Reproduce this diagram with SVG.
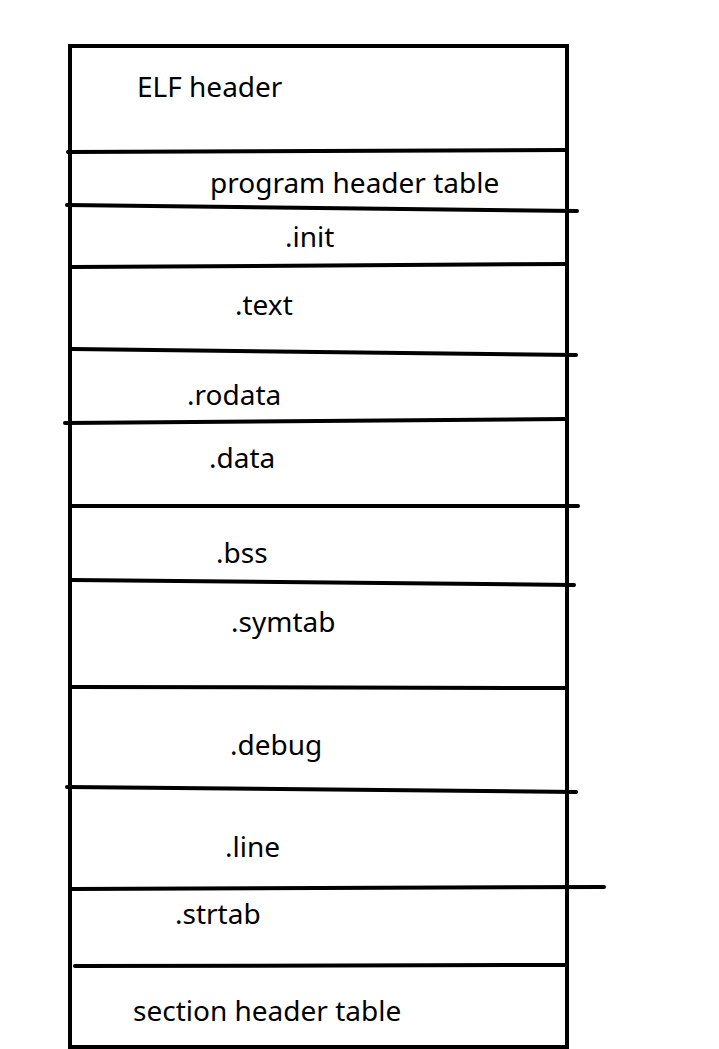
<svg xmlns="http://www.w3.org/2000/svg" width="719" height="1049" viewBox="0 0 719 1049">
<style>
.ln{stroke:#000;stroke-width:4;fill:none;stroke-linecap:round}
.t{font-family:"Noto Sans","Open Sans",sans-serif;font-size:28px;fill:#000}
</style>
<rect width="719" height="1049" fill="#fff"/>
<g id="frame"><rect x="70" y="46" width="497" height="1001" class="ln" stroke-linecap="butt"/></g>
<g id="connectors">
<line class="ln" x1="68" y1="152" x2="567" y2="150"/>
<line class="ln" x1="67" y1="205" x2="577" y2="211"/>
<line class="ln" x1="72" y1="267" x2="567" y2="264"/>
<line class="ln" x1="72" y1="349" x2="576" y2="355"/>
<line class="ln" x1="65" y1="423" x2="567" y2="419"/>
<line class="ln" x1="72" y1="506" x2="578" y2="506"/>
<line class="ln" x1="72" y1="580" x2="574" y2="585"/>
<line class="ln" x1="72" y1="687" x2="567" y2="688"/>
<line class="ln" x1="67" y1="787" x2="576" y2="792"/>
<line class="ln" x1="72" y1="889" x2="604" y2="887"/>
<line class="ln" x1="75" y1="966" x2="565" y2="965"/>
</g>
<g id="elf-header"><text class="t" x="137" y="97">ELF header</text></g>
<g id="program-header-table"><text class="t" x="210" y="193">program header table</text></g>
<g id="init"><text class="t" x="285" y="247">.init</text></g>
<g id="text"><text class="t" x="235" y="315">.text</text></g>
<g id="rodata"><text class="t" x="187" y="405">.rodata</text></g>
<g id="data"><text class="t" x="209" y="468">.data</text></g>
<g id="bss"><text class="t" x="216" y="563">.bss</text></g>
<g id="symtab"><text class="t" x="231" y="632">.symtab</text></g>
<g id="debug"><text class="t" x="230" y="755">.debug</text></g>
<g id="line"><text class="t" x="225" y="857">.line</text></g>
<g id="strtab"><text class="t" x="175" y="924">.strtab</text></g>
<g id="section-header-table"><text class="t" x="133" y="1021">section header table</text></g>
</svg>
